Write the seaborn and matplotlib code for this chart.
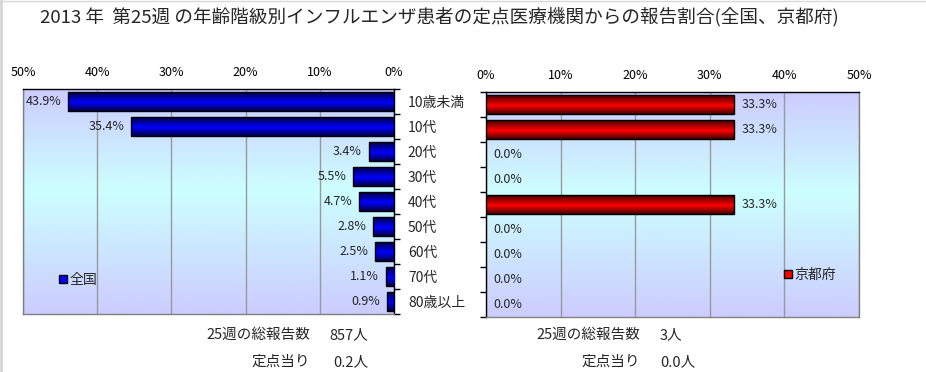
import numpy as np
import pandas as pd
import seaborn as sns
import matplotlib
matplotlib.use('Agg')
import matplotlib.pyplot as plt
from matplotlib.colors import LinearSegmentedColormap
from matplotlib.patches import Patch, Rectangle
from matplotlib.lines import Line2D

# ---- data ----
categories = ['10歳未満', '10代', '20代', '30代', '40代', '50代', '60代', '70代', '80歳以上']
zenkoku = [43.9, 35.4, 3.4, 5.5, 4.7, 2.8, 2.5, 1.1, 0.9]
kyoto = [33.3, 33.3, 0.0, 0.0, 33.3, 0.0, 0.0, 0.0, 0.0]
x_ticks = [0, 10, 20, 30, 40, 50]
title = '2013 年  第25週 の年齢階級別インフルエンザ患者の定点医療機関からの報告割合(全国、京都府)'
zen_total, zen_per = '857人', '0.2人'
kyo_total, kyo_per = '3人', '0.0人'

df = pd.DataFrame({'年齢階級': categories, '全国': zenkoku, '京都府': kyoto})

sns.set_theme(style='white')
plt.rcParams['font.family'] = ['Noto Sans CJK JP', 'DejaVu Sans']

W, H = 926, 372
fig = plt.figure(figsize=(W / 100, H / 100), dpi=100)
fig.patch.set_facecolor('white')


def rect(l, t, r, b):
    return [l / W, 1 - b / H, (r - l) / W, (b - t) / H]


axL = fig.add_axes(rect(23, 89, 394, 314))
axR = fig.add_axes(rect(486, 92, 859, 317))

bg_cmap = LinearSegmentedColormap.from_list(
    'bg', [(0, '#ccccff'), (0.45, '#ccffff'), (1, '#ccccff')])


def background(ax):
    g = np.linspace(0, 1, 256).reshape(-1, 1)
    ax.imshow(g, aspect='auto', cmap=bg_cmap, extent=(0, 1, 0, 1),
              transform=ax.transAxes, origin='upper', zorder=0)


def gradient_bars(ax, dark, bright):
    cmap = LinearSegmentedColormap.from_list('bar', [(0, dark), (0.55, bright), (1, dark)])
    g = np.linspace(0, 1, 64).reshape(-1, 1)
    for p in list(ax.patches):
        w = p.get_width()
        if w == 0:
            p.set_visible(False)
            continue
        x0, y0, h = p.get_x(), p.get_y(), p.get_height()
        im = ax.imshow(g, aspect='auto', cmap=cmap, extent=(x0, x0 + w, y0 + h, y0),
                       origin='upper', zorder=3.5, interpolation='bilinear')
        im.set_clip_path(p)
        p.set_facecolor('none')
        p.set_zorder(4)


sns.barplot(data=df, y='年齢階級', x='全国', orient='h', ax=axL, color='#0000ff',
            width=0.76, edgecolor='black', linewidth=1)
sns.barplot(data=df, y='年齢階級', x='京都府', orient='h', ax=axR, color='#ff0000',
            width=0.76, edgecolor='black', linewidth=1)

gradient_bars(axL, '#000044', '#0000ff')
gradient_bars(axR, '#440000', '#ff0000')

for ax in (axL, axR):
    background(ax)
    ax.set_axisbelow(True)
    ax.xaxis.tick_top()
    ax.set_xticks(x_ticks)
    ax.set_xticklabels([f'{v}%' for v in x_ticks])
    ax.tick_params(axis='x', length=0, pad=7, labelsize=9, colors='black')
    ax.grid(axis='x', color='#999999', lw=1)
    ax.grid(axis='y', visible=False)
    ax.set_xlabel('')
    ax.set_ylabel('')
    ax.set_ylim(8.5, -0.5)
    ax.set_yticks(range(len(categories)))
    ax.set_yticks(np.arange(-0.5, len(categories), 1), minor=True)
    for s in ax.spines.values():
        s.set_color('#808080')
        s.set_linewidth(1)
        s.set_visible(True)
    ax.spines['top'].set_color('black')

axL.set_xlim(50, 0)
axR.set_xlim(0, 50)

axL.yaxis.tick_right()
axL.set_yticklabels(categories)
axL.tick_params(axis='y', which='major', length=0, pad=10, labelsize=10)
axL.tick_params(axis='y', which='minor', length=4, direction='out', color='black', width=1,
                right=True, left=False)
axL.spines['right'].set_color('black')

axR.set_yticklabels([])
axR.tick_params(axis='y', which='major', length=0)
axR.tick_params(axis='y', which='minor', length=4, direction='out', color='black', width=1,
                left=True, right=False)
axR.spines['left'].set_color('black')

for i, v in enumerate(zenkoku):
    axL.annotate(f'{v:.1f}%', xy=(v, i), xytext=(-5, 0), textcoords='offset points',
                 ha='right', va='center', fontsize=9, zorder=6)
for i, v in enumerate(kyoto):
    axR.annotate(f'{v:.1f}%', xy=(v, i), xytext=(5, 0), textcoords='offset points',
                 ha='left', va='center', fontsize=9, zorder=6)

# legends
axL.legend(handles=[Patch(facecolor='#0000ff', edgecolor='black', label='全国')],
           loc='center left', bbox_to_anchor=(52 / W, 1 - 280 / H),
           bbox_transform=fig.transFigure, frameon=False, fontsize=10,
           handlelength=0.55, handleheight=0.55, handletextpad=0.2, borderpad=0)
axR.legend(handles=[Patch(facecolor='#ff0000', edgecolor='black', label='京都府')],
           loc='center left', bbox_to_anchor=(777 / W, 1 - 275 / H),
           bbox_transform=fig.transFigure, frameon=False, fontsize=10,
           handlelength=0.55, handleheight=0.55, handletextpad=0.2, borderpad=0)

# title
fig.text(439 / W, 1 - 17 / H, title, ha='center', va='center', fontsize=13.4)

# bottom notes
fs = 10.5
fig.text(310 / W, 1 - 335 / H, '25週の総報告数', ha='right', va='center', fontsize=fs)
fig.text(329 / W, 1 - 335 / H, zen_total, ha='left', va='center', fontsize=fs)
fig.text(310 / W, 1 - 362 / H, '定点当り', ha='right', va='center', fontsize=fs)
fig.text(333 / W, 1 - 362 / H, zen_per, ha='left', va='center', fontsize=fs)
fig.text(640 / W, 1 - 335 / H, '25週の総報告数', ha='right', va='center', fontsize=fs)
fig.text(660 / W, 1 - 335 / H, kyo_total, ha='left', va='center', fontsize=fs)
fig.text(640 / W, 1 - 362 / H, '定点当り', ha='right', va='center', fontsize=fs)
fig.text(660 / W, 1 - 362 / H, kyo_per, ha='left', va='center', fontsize=fs)

# faint frame lines
fig.add_artist(Rectangle((0, 0), 3 / W, 1, transform=fig.transFigure,
                         facecolor='#d8d8d8', edgecolor='none'))
fig.add_artist(Line2D([0, 1], [1 - 0.5 / H, 1 - 0.5 / H], transform=fig.transFigure,
                      color='#d8d8d8', lw=1))

fig.savefig('out.png', dpi=100)
